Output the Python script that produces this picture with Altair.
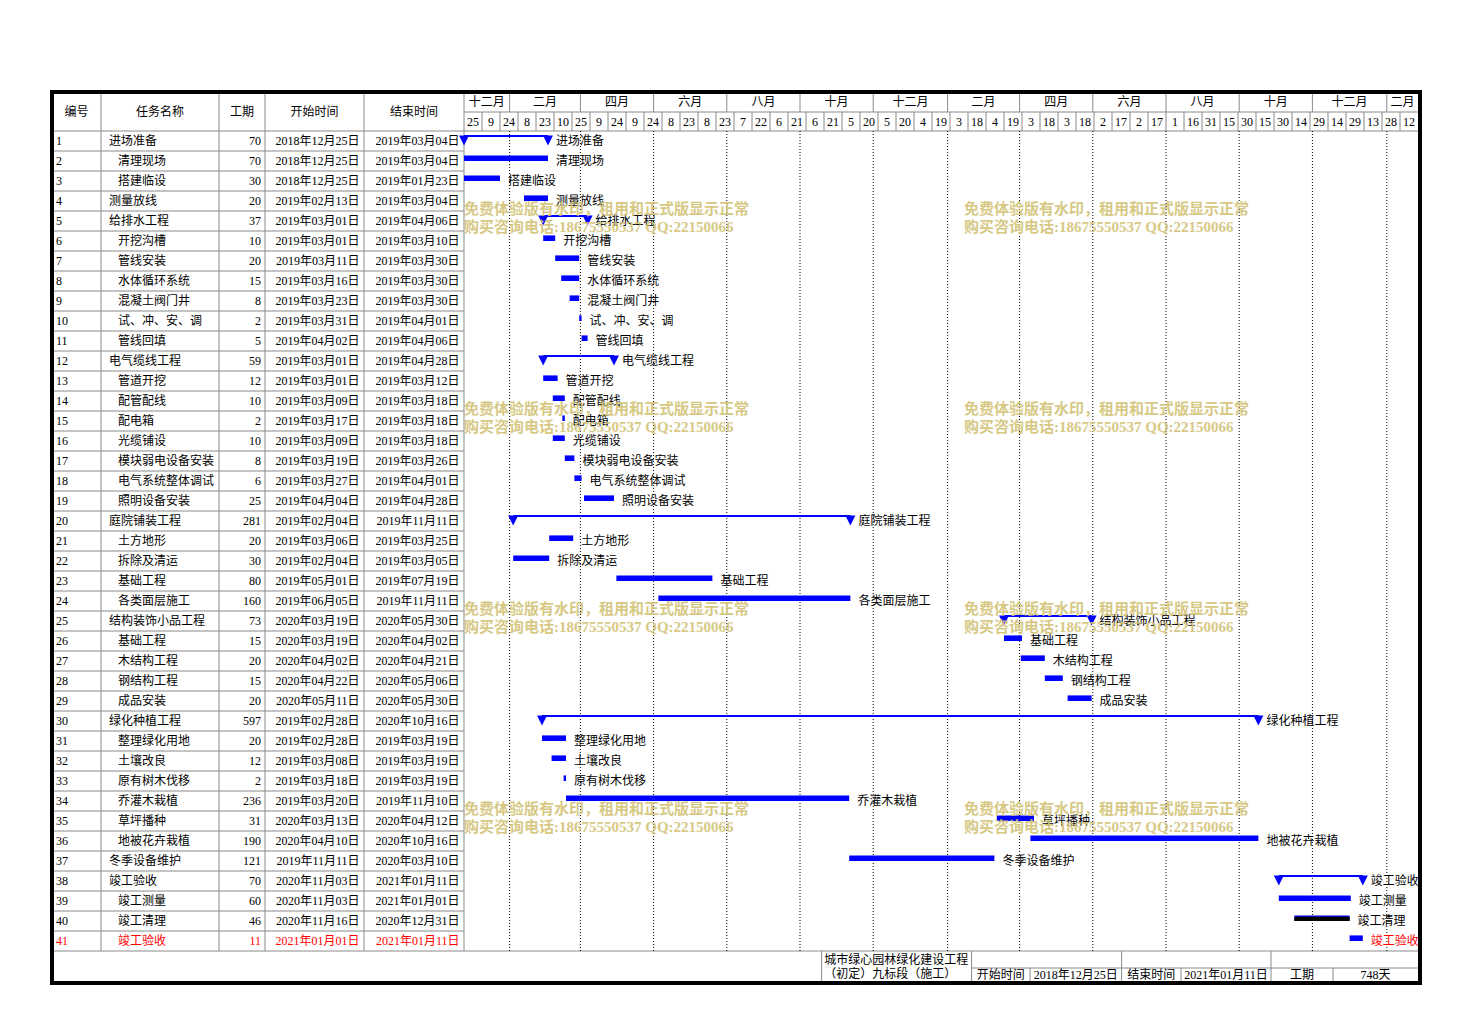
import altair as alt
import pandas as pd

# ---------------- data ----------------
task_ids = list(range(1, 42))
task_names = ["进场准备", "清理现场", "搭建临设", "测量放线", "给排水工程", "开挖沟槽", "管线安装",
              "水体循环系统", "混凝土阀门井", "试、冲、安、调", "管线回填", "电气缆线工程", "管道开挖",
              "配管配线", "配电箱", "光缆铺设", "模块弱电设备安装", "电气系统整体调试", "照明设备安装",
              "庭院铺装工程", "土方地形", "拆除及清运", "基础工程", "各类面层施工", "结构装饰小品工程",
              "基础工程", "木结构工程", "钢结构工程", "成品安装", "绿化种植工程", "整理绿化用地",
              "土壤改良", "原有树木伐移", "乔灌木栽植", "草坪播种", "地被花卉栽植", "冬季设备维护",
              "竣工验收", "竣工测量", "竣工清理", "竣工验收"]
task_levels = [0, 1, 1, 0, 0, 1, 1, 1, 1, 1, 1, 0, 1, 1, 1, 1, 1, 1, 1, 0, 1, 1, 1, 1, 0,
               1, 1, 1, 1, 0, 1, 1, 1, 1, 1, 1, 0, 0, 1, 1, 1]
durations = [70, 70, 30, 20, 37, 10, 20, 15, 8, 2, 5, 59, 12, 10, 2, 10, 8, 6, 25, 281, 20, 30, 80,
             160, 73, 15, 20, 15, 20, 597, 20, 12, 2, 236, 31, 190, 121, 70, 60, 46, 11]
starts = ["2018-12-25", "2018-12-25", "2018-12-25", "2019-02-13", "2019-03-01", "2019-03-01",
          "2019-03-11", "2019-03-16", "2019-03-23", "2019-03-31", "2019-04-02", "2019-03-01",
          "2019-03-01", "2019-03-09", "2019-03-17", "2019-03-09", "2019-03-19", "2019-03-27",
          "2019-04-04", "2019-02-04", "2019-03-06", "2019-02-04", "2019-05-01", "2019-06-05",
          "2020-03-19", "2020-03-19", "2020-04-02", "2020-04-22", "2020-05-11", "2019-02-28",
          "2019-02-28", "2019-03-08", "2019-03-18", "2019-03-20", "2020-03-13", "2020-04-10",
          "2019-11-11", "2020-11-03", "2020-11-03", "2020-11-16", "2021-01-01"]
ends = ["2019-03-04", "2019-03-04", "2019-01-23", "2019-03-04", "2019-04-06", "2019-03-10",
        "2019-03-30", "2019-03-30", "2019-03-30", "2019-04-01", "2019-04-06", "2019-04-28",
        "2019-03-12", "2019-03-18", "2019-03-18", "2019-03-18", "2019-03-26", "2019-04-01",
        "2019-04-28", "2019-11-11", "2019-03-25", "2019-03-05", "2019-07-19", "2019-11-11",
        "2020-05-30", "2020-04-02", "2020-04-21", "2020-05-06", "2020-05-30", "2020-10-16",
        "2019-03-19", "2019-03-19", "2019-03-19", "2019-11-10", "2020-04-12", "2020-10-16",
        "2020-03-10", "2021-01-11", "2021-01-01", "2020-12-31", "2021-01-11"]
summary_rows = [1, 5, 12, 20, 25, 30, 38]
dark_rows = [40]
red_rows = [41]

header_names = ["编号", "任务名称", "工期", "开始时间", "结束时间"]
month_labels = ["十二月", "二月", "四月", "六月", "八月", "十月", "十二月",
                "二月", "四月", "六月", "八月", "十月", "十二月", "二月"]
month_bounds = ["2019-02-01", "2019-04-01", "2019-06-01", "2019-08-01", "2019-10-01",
                "2019-12-01", "2020-02-01", "2020-04-01", "2020-06-01", "2020-08-01",
                "2020-10-01", "2020-12-01", "2021-02-01"]
day_labels = ["25", "9", "24", "8", "23", "10", "25", "9", "24", "9", "24", "8", "23", "8", "23",
              "7", "22", "6", "21", "6", "21", "5", "20", "5", "20", "4", "19", "3", "18", "4",
              "19", "3", "18", "3", "18", "2", "17", "2", "17", "1", "16", "31", "15", "30", "15",
              "30", "14", "29", "14", "29", "13", "28", "12"]
footer_title = ["城市绿心园林绿化建设工程", "（初定）九标段（施工）"]
footer_labels = ["开始时间", "2018年12月25日", "结束时间", "2021年01月11日", "工期", "748天"]
watermark_lines = ["免费体验版有水印，租用和正式版显示正常", "购买咨询电话:18675550537 QQ:22150066"]

# ---------------- layout / style ----------------
FONT = "'Liberation Serif', 'Noto Sans CJK SC', sans-serif"
BLUE = "#0000FF"
GRID = "#8a8a8a"
ORIGIN = pd.Timestamp("2018-12-25")
CELL_DAYS = 15
L_W, R_W, H = 412, 956, 891
YTOP, YBOT = -1.95, 42.6
X_END = len(day_labels) * CELL_DAYS           # 795 days of grid
XMAX_G = X_END + 2 / 1.2                        # plus half border
col_edges = [0, 49, 167, 213, 312, 412]
MID = -0.95                                     # month/day header split
FOOT_MID = 41.85
foot_edges = [298, 423, 471.7, 548, 597.5, 672.5, 724.2, X_END]
wm_x = [0, 416.7]
wm_y = [3.9, 13.9, 23.9, 33.9]

XS_L = alt.Scale(domain=[0, L_W], nice=False, zero=False)
XS_R = alt.Scale(domain=[0, XMAX_G], nice=False, zero=False)
YS = alt.Scale(domain=[YTOP, YBOT], reverse=True, nice=False, zero=False)


def fmt(d):
    t = pd.Timestamp(d)
    return f"{t.year}年{t.month:02d}月{t.day:02d}日"


df = pd.DataFrame({
    "id": task_ids, "name": task_names, "lvl": task_levels, "dur": durations,
    "start": [fmt(d) for d in starts], "end": [fmt(d) for d in ends],
})
df["s"] = [(pd.Timestamp(d) - ORIGIN).days for d in starts]
df["e"] = [(pd.Timestamp(d) - ORIGIN).days + 1 for d in ends]
df["yc"] = df["id"] - 0.5
df["yb0"] = df["id"] - 1 + 0.22
df["yb1"] = df["id"] - 1 + 0.50
df["yl"] = df["id"] - 1 + 0.25
df["yt"] = df["id"] - 1 + 0.47
df["ydark"] = df["id"] - 1 + 0.29
df["col"] = ["#FF0000" if i in red_rows else "#000000" for i in task_ids]
df["namex"] = [57 + 9 * l for l in task_levels]
df["summary"] = df["id"].isin(summary_rows)

bars = df[~df["summary"]]
summ = df[df["summary"]]
dark = df[df["id"].isin(dark_rows)]
tri = pd.concat([summ.assign(tx=summ["s"]), summ.assign(tx=summ["e"])])


def rule_layer(data, xs, color=GRID, width=1, dash=None, cap="butt"):
    kw = dict(color=color, strokeWidth=width, strokeCap=cap)
    if dash:
        kw["strokeDash"] = dash
    return alt.Chart(pd.DataFrame(data)).mark_rule(**kw).encode(
        x=alt.X("x:Q", scale=xs, axis=None), x2="x2:Q",
        y=alt.Y("y:Q", scale=YS, axis=None), y2="y2:Q")


def text_layer(data, xs, xf, yf, tf, align="left", size=12, color=None, cf=None, **kw):
    ch = alt.Chart(data).mark_text(align=align, baseline="middle", font=FONT, fontSize=size,
                                   **({"color": color} if color else {}), **kw)
    enc = dict(x=alt.X(xf, type="quantitative", scale=xs, axis=None),
               y=alt.Y(yf, type="quantitative", scale=YS, axis=None),
               text=alt.Text(tf, type="nominal"))
    if cf:
        enc["color"] = alt.Color(cf, type="nominal", scale=None)
    return ch.encode(**enc)


# ---------------- left panel: table ----------------
l_h = rule_layer({"x": [0] * 42, "x2": [L_W] * 42, "y": list(range(42)), "y2": list(range(42))}, XS_L)
l_v = rule_layer({"x": col_edges[1:5], "x2": col_edges[1:5], "y": [YTOP] * 4, "y2": [41] * 4}, XS_L)
l_border = rule_layer({"x": [0, 0, 0], "x2": [L_W, L_W, 0], "y": [YTOP, YBOT, YTOP],
                       "y2": [YTOP, YBOT, YBOT]}, XS_L, color="black", width=4, cap="square")
hdr = pd.DataFrame({"t": header_names,
                    "x": [(col_edges[i] + col_edges[i + 1]) / 2 for i in range(5)],
                    "y": [YTOP / 2 - 0.0] * 5})
t_hdr = text_layer(hdr, XS_L, "x", "y", "t", align="center", color="black")
t_id = text_layer(df.assign(x=4), XS_L, "x", "yc", "id", cf="col")
t_name = text_layer(df, XS_L, "namex", "yc", "name", cf="col")
t_dur = text_layer(df.assign(x=col_edges[3] - 4), XS_L, "x", "yc", "dur", align="right", cf="col")
t_st = text_layer(df.assign(x=col_edges[4] - 4.5), XS_L, "x", "yc", "start", align="right", cf="col")
t_en = text_layer(df.assign(x=col_edges[5] - 4.5), XS_L, "x", "yc", "end", align="right", cf="col")

left = alt.layer(l_h, l_v, t_hdr, t_id, t_name, t_dur, t_st, t_en, l_border).properties(
    width=L_W, height=H)

# ---------------- right panel: gantt ----------------
mb = [(pd.Timestamp(d) - ORIGIN).days for d in month_bounds]
edges = [0] + mb + [X_END]
months = pd.DataFrame({"t": month_labels,
                       "x": [(edges[i] + edges[i + 1]) / 2 for i in range(len(month_labels))],
                       "y": [(YTOP + MID) / 2] * len(month_labels)})
days = pd.DataFrame({"t": day_labels,
                     "x": [i * CELL_DAYS + CELL_DAYS / 2 for i in range(len(day_labels))],
                     "y": [MID / 2] * len(day_labels)})
dticks = [i * CELL_DAYS for i in range(1, len(day_labels))]

r_h = rule_layer({"x": [0, 0, 0], "x2": [X_END] * 3, "y": [MID, 0, 41], "y2": [MID, 0, 41]}, XS_R)
r_left = rule_layer({"x": [0], "x2": [0], "y": [YTOP], "y2": [41]}, XS_R)
r_mv = rule_layer({"x": mb, "x2": mb, "y": [YTOP] * len(mb), "y2": [MID] * len(mb)}, XS_R)
r_dv = rule_layer({"x": dticks, "x2": dticks, "y": [MID] * len(dticks), "y2": [0] * len(dticks)}, XS_R)
r_dot = rule_layer({"x": mb, "x2": mb, "y": [0] * len(mb), "y2": [41] * len(mb)}, XS_R,
                   color="black", dash=[1, 2])

fe = foot_edges
r_foot = rule_layer({
    "x": [fe[0], fe[1], fe[3], fe[5], fe[2], fe[4], fe[6], fe[1]],
    "x2": [fe[0], fe[1], fe[3], fe[5], fe[2], fe[4], fe[6], fe[7]],
    "y": [41, 41, 41, 41, FOOT_MID, FOOT_MID, FOOT_MID, FOOT_MID],
    "y2": [YBOT, YBOT, YBOT, YBOT, YBOT, YBOT, YBOT, FOOT_MID]}, XS_R)
foot_t = pd.DataFrame({"t": footer_title, "x": [fe[0] + 2.2] * 2, "y": [41.47, 42.15]})
foot_l = pd.DataFrame({"t": footer_labels,
                       "x": [(fe[i] + fe[i + 1]) / 2 for i in range(1, 7)],
                       "y": [42.2] * 6})
t_foot_t = text_layer(foot_t, XS_R, "x", "y", "t", color="black")
t_foot_l = text_layer(foot_l, XS_R, "x", "y", "t", align="center", color="black")

t_months = text_layer(months, XS_R, "x", "y", "t", align="center", color="black")
t_days = text_layer(days, XS_R, "x", "y", "t", align="center", color="black")

b_bars = alt.Chart(bars).mark_rect(color=BLUE).encode(
    x=alt.X("s:Q", scale=XS_R, axis=None), x2="e:Q",
    y=alt.Y("yb0:Q", scale=YS, axis=None), y2="yb1:Q")
b_dark = alt.Chart(dark).mark_rect(color="black").encode(
    x=alt.X("s:Q", scale=XS_R, axis=None), x2="e:Q",
    y=alt.Y("ydark:Q", scale=YS, axis=None), y2="yb1:Q")
b_sum = alt.Chart(summ).mark_rule(color=BLUE, strokeWidth=2).encode(
    x=alt.X("s:Q", scale=XS_R, axis=None), x2="e:Q",
    y=alt.Y("yl:Q", scale=YS, axis=None))
b_tri = alt.Chart(tri).mark_point(shape="M-1,-1L1,-1L0,1Z", filled=True, size=100,
                                  color=BLUE, opacity=1, strokeWidth=0).encode(
    x=alt.X("tx:Q", scale=XS_R, axis=None), y=alt.Y("yt:Q", scale=YS, axis=None))
t_lbl = text_layer(df, XS_R, "e", "yc", "name", cf="col", dx=8)

wm = pd.DataFrame([{"t": watermark_lines[j], "x": wx, "y": wy + 0.9 * j}
                   for wx in wm_x for wy in wm_y for j in range(2)])
t_wm = text_layer(wm, XS_R, "x", "y", "t", size=15, color="#D3C478", fontWeight="bold",
                  opacity=0.9)

r_border = rule_layer({"x": [0, 0, XMAX_G], "x2": [XMAX_G, XMAX_G, XMAX_G],
                       "y": [YTOP, YBOT, YTOP], "y2": [YTOP, YBOT, YBOT]}, XS_R,
                      color="black", width=4, cap="square")

right = alt.layer(r_h, r_left, r_mv, r_dv, r_dot, r_foot, t_months, t_days, t_foot_t, t_foot_l,
                  b_bars, b_dark, b_sum, b_tri, t_lbl, t_wm, r_border).properties(
    width=R_W, height=H)

chart = alt.hconcat(left, right, spacing=0, bounds="flush").configure_view(
    stroke=None).properties(padding={"left": 41, "top": 81, "right": 5, "bottom": 5},
                            background="white")

chart.save("out.html", embed_options={"renderer": "svg", "actions": False})
